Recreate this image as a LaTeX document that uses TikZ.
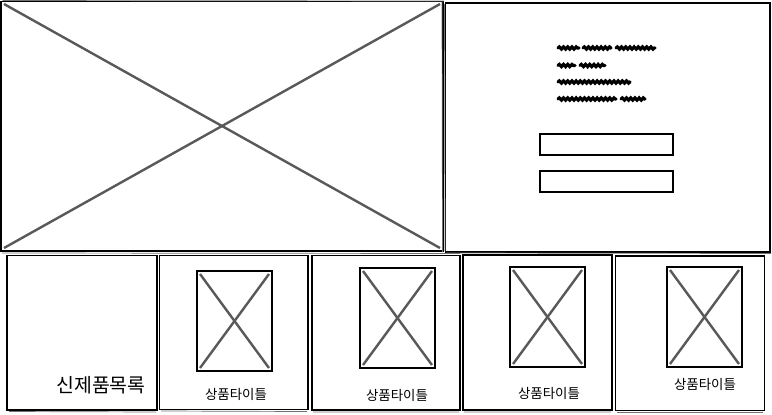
\documentclass[tikz,border=0pt]{standalone}
\usepackage{fontspec}
\newfontfamily\kr{Noto Sans CJK KR}
\usetikzlibrary{decorations.pathmorphing}
\tikzset{
  frame/.style={draw=black, line width=1.7bp},
  sketch/.style={draw=black!55, line width=0.7bp},
  cross/.style={draw=black!65, line width=2.4bp},
  imgbox/.style={draw=black, line width=1.8bp},
  scribble/.style={draw=black, line width=3.2bp, line cap=round, decorate,
    decoration={snake, amplitude=1.1bp, segment length=4.2bp}},
  biglabel/.style={font=\kr\fontsize{19.5}{22}\selectfont, inner sep=0pt},
  label/.style={font=\kr\fontsize{13.5}{16}\selectfont, inner sep=0pt}
}
\begin{document}
\begin{tikzpicture}[x=1bp,y=-1bp]
\useasboundingbox (0,0) rectangle (772,414);
\fill[white] (0,0) rectangle (772,414);
% hero image
\draw[cross] (4,4) -- (440,248);
\draw[cross] (440,4) -- (4,248);
\draw[frame] (1,1.5) rectangle (443,251);
\draw[sketch] (2.5,0.5) -- (444,1) (442,2) -- (442.5,252);
% right panel
\draw[frame] (445.5,3) rectangle (770,252);
\draw[sketch] (444.5,4) -- (445,251) (446,253) -- (771,253.5);
\draw[scribble] (558,48) -- (579,48);
\draw[scribble] (583,48) -- (611,48);
\draw[scribble] (616,48) -- (655,48);
\draw[scribble] (558,65.5) -- (575,65.5);
\draw[scribble] (580,65.5) -- (605,65.5);
\draw[scribble] (558,82) -- (630,82);
\draw[scribble] (558,99) -- (616,99);
\draw[scribble] (621,99) -- (645,99);
\draw[frame] (540,134) rectangle (673,155);
\draw[frame] (540,171) rectangle (673,192);
% bottom row boxes
\draw[frame] (7,255.5) rectangle (157,410);
\draw[frame] (159.5,255.5) rectangle (308,409.5);
\draw[frame] (312,255.5) rectangle (460,410);
\draw[frame] (463,255) rectangle (612,410);
\draw[frame] (615.5,256) rectangle (764.5,410.5);
\draw[sketch] (2,253) -- (460,253.5) (9,411.5) -- (156,412) (161,411) -- (307,411.5)
  (313,412) -- (459,412) (464,412) -- (611,412) (617,412.5) -- (763,412.5);
% product images
\foreach \x/\y in {197/271, 360/268, 510/267, 667/267}{
  \draw[cross] (\x+3,\y+3) -- (\x+72,\y+97);
  \draw[cross] (\x+72,\y+3) -- (\x+3,\y+97);
  \draw[imgbox] (\x,\y) rectangle (\x+75,\y+100);
}
% labels
\node[biglabel] (newlist) at (101,385) {신제품목록};
\node[label] (t1) at (236,394) {상품타이틀};
\node[label] (t2) at (397,395) {상품타이틀};
\node[label] (t3) at (549,393) {상품타이틀};
\node[label] (t4) at (705,384) {상품타이틀};
\end{tikzpicture}
\end{document}
